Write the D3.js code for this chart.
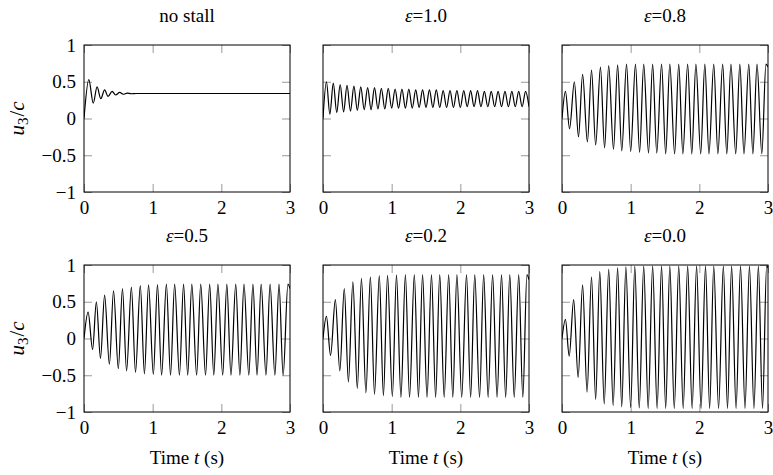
<!DOCTYPE html>
<meta charset="utf-8">
<style>
  body { margin: 0; background: #fff; }
  svg, text { font-family: "Liberation Serif", "Times New Roman", "DejaVu Serif", serif; }
  text { fill: #000; }
  .tick line { stroke: #999; }
  .domain { display: none; }
</style>
<body>
<svg width="773" height="475"></svg>

<script src="https://cdn.jsdelivr.net/npm/d3@7/dist/d3.min.js"></script>
<script>

// panel titles, row by row
var titles = ["no stall", "ε=1.0", "ε=0.8", "ε=0.5", "ε=0.2", "ε=0.0"];

var xTicks = [0, 1, 2, 3];
var yTicks = [-1, -0.5, 0, 0.5, 1];

// [time (s), u3/c] at the turning points
var noStall = [
  [0, 0], [0.07, 0.53], [0.135, 0.21], [0.19, 0.43], [0.245, 0.27], [0.30, 0.39],
  [0.35, 0.30], [0.41, 0.37], [0.46, 0.32], [0.52, 0.355], [0.57, 0.33],
  [0.63, 0.345], [0.69, 0.337], [0.76, 0.34], [3.0, 0.34]
];

var eps10 = [
  [0, 0],
  [0.05, 0.50], [0.10, 0.06], [0.15, 0.48], [0.20, 0.08], [0.25, 0.46], [0.30, 0.09],
  [0.35, 0.45], [0.40, 0.10], [0.45, 0.44], [0.50, 0.11], [0.55, 0.43], [0.60, 0.12],
  [0.65, 0.42], [0.70, 0.12], [0.75, 0.42], [0.80, 0.13], [0.85, 0.41], [0.90, 0.13],
  [0.95, 0.41], [1.00, 0.14], [1.05, 0.40], [1.10, 0.14], [1.15, 0.40], [1.20, 0.14],
  [1.25, 0.40], [1.30, 0.14], [1.35, 0.39], [1.40, 0.15], [1.45, 0.39], [1.50, 0.15],
  [1.55, 0.39], [1.60, 0.15], [1.65, 0.39], [1.70, 0.15], [1.75, 0.38], [1.80, 0.15],
  [1.85, 0.38], [1.90, 0.15], [1.95, 0.38], [2.00, 0.15], [2.05, 0.38], [2.10, 0.16],
  [2.15, 0.38], [2.20, 0.16], [2.25, 0.38], [2.30, 0.16], [2.35, 0.37], [2.40, 0.16],
  [2.45, 0.37], [2.50, 0.16], [2.55, 0.37], [2.60, 0.16], [2.65, 0.37], [2.70, 0.16],
  [2.75, 0.37], [2.80, 0.16], [2.85, 0.37], [2.90, 0.16], [2.95, 0.37], [3.00, 0.16]
];

var eps08 = [
  [0, 0],
  [0.05, 0.37], [0.11, -0.14], [0.18, 0.50], [0.24, -0.25], [0.30, 0.60], [0.37, -0.32],
  [0.43, 0.66], [0.49, -0.36], [0.56, 0.70], [0.62, -0.40], [0.68, 0.72], [0.75, -0.42],
  [0.81, 0.73], [0.87, -0.44], [0.94, 0.74], [1.00, -0.45], [1.07, 0.74], [1.13, -0.46],
  [1.19, 0.74], [1.26, -0.47], [1.32, 0.74], [1.38, -0.47], [1.45, 0.74], [1.51, -0.48],
  [1.57, 0.74], [1.64, -0.48], [1.70, 0.74], [1.76, -0.48], [1.83, 0.74], [1.89, -0.48],
  [1.95, 0.74], [2.02, -0.48], [2.08, 0.74], [2.14, -0.48], [2.21, 0.74], [2.27, -0.48],
  [2.34, 0.74], [2.40, -0.48], [2.46, 0.74], [2.53, -0.48], [2.59, 0.74], [2.65, -0.48],
  [2.72, 0.74], [2.78, -0.48], [2.84, 0.74], [2.91, -0.48], [2.97, 0.74], [3.00, 0.70]
];

var eps05 = [
  [0, 0],
  [0.06, 0.36], [0.125, -0.15], [0.18, 0.50], [0.24, -0.27], [0.30, 0.59], [0.37, -0.35],
  [0.43, 0.65], [0.50, -0.41], [0.56, 0.68], [0.62, -0.44], [0.69, 0.70], [0.75, -0.46],
  [0.82, 0.72], [0.88, -0.48], [0.94, 0.73], [1.01, -0.49], [1.07, 0.735], [1.13, -0.50],
  [1.20, 0.74], [1.26, -0.50], [1.32, 0.74], [1.39, -0.50], [1.45, 0.74], [1.51, -0.50],
  [1.57, 0.74], [1.64, -0.50], [1.70, 0.74], [1.77, -0.50], [1.83, 0.74], [1.89, -0.50],
  [1.95, 0.74], [2.02, -0.50], [2.08, 0.74], [2.14, -0.50], [2.21, 0.74], [2.27, -0.50],
  [2.33, 0.74], [2.40, -0.50], [2.46, 0.74], [2.52, -0.50], [2.58, 0.74], [2.65, -0.50],
  [2.71, 0.74], [2.78, -0.50], [2.84, 0.74], [2.90, -0.50], [2.97, 0.74], [3.00, 0.68]
];

var eps02 = [
  [0, 0],
  [0.05, 0.30], [0.11, -0.23], [0.18, 0.53], [0.245, -0.44], [0.31, 0.68], [0.37, -0.59],
  [0.435, 0.77], [0.50, -0.68], [0.56, 0.82], [0.625, -0.74], [0.69, 0.84], [0.75, -0.76],
  [0.82, 0.855], [0.88, -0.78], [0.94, 0.86], [1.01, -0.79], [1.07, 0.865], [1.135, -0.80],
  [1.20, 0.87], [1.26, -0.80], [1.33, 0.87], [1.39, -0.80], [1.45, 0.87], [1.515, -0.80],
  [1.58, 0.87], [1.64, -0.80], [1.70, 0.87], [1.765, -0.80], [1.83, 0.87], [1.89, -0.80],
  [1.95, 0.87], [2.02, -0.80], [2.09, 0.87], [2.15, -0.80], [2.21, 0.87], [2.28, -0.80],
  [2.34, 0.87], [2.405, -0.80], [2.47, 0.87], [2.535, -0.80], [2.60, 0.87], [2.66, -0.80],
  [2.72, 0.87], [2.785, -0.80], [2.85, 0.87], [2.91, -0.80], [2.97, 0.87], [3.00, 0.80]
];

var eps00 = [
  [0, 0],
  [0.05, 0.26], [0.105, -0.24], [0.17, 0.53], [0.235, -0.53], [0.30, 0.73], [0.365, -0.73],
  [0.43, 0.84], [0.49, -0.83], [0.55, 0.91], [0.615, -0.89], [0.68, 0.94], [0.745, -0.91],
  [0.81, 0.96], [0.87, -0.93], [0.93, 0.975], [1.00, -0.94], [1.06, 0.98], [1.125, -0.945],
  [1.19, 0.985], [1.255, -0.95], [1.32, 0.985], [1.385, -0.95], [1.45, 0.985], [1.51, -0.95],
  [1.57, 0.985], [1.635, -0.95], [1.70, 0.985], [1.765, -0.95], [1.83, 0.985], [1.895, -0.95],
  [1.96, 0.985], [2.025, -0.95], [2.09, 0.985], [2.15, -0.95], [2.21, 0.985], [2.28, -0.95],
  [2.35, 0.985], [2.41, -0.95], [2.47, 0.985], [2.535, -0.95], [2.60, 0.985], [2.665, -0.95],
  [2.73, 0.985], [2.795, -0.95], [2.86, 0.985], [2.92, -0.95], [2.98, 0.985], [3.00, 0.96]
];

var series = [noStall, eps10, eps08, eps05, eps02, eps00];

// layout
var panelW = 206, panelH = 147;
var colLeft = [84, 323, 562];
var rowTop = [45, 265];
var fontSize = 19;
var serif = "'Liberation Serif', 'Times New Roman', 'DejaVu Serif', serif";

var svg = d3.select("svg").attr("font-family", serif);

var x = d3.scaleLinear().domain([0, 3]).range([0, panelW]);
var y = d3.scaleLinear().domain([-1, 1]).range([panelH, 0]);

var valueline = d3.line().curve(d3.curveMonotoneX)
    .x(function(d) { return x(d[0]); })
    .y(function(d) { return y(d[1]); });

svg.append("defs").append("clipPath")
    .attr("id", "clip")
    .append("rect")
    .attr("width", panelW)
    .attr("height", panelH);

var fmt = d3.format("");

series.forEach(function(data, i) {
    var col = i % 3, row = Math.floor(i / 3);
    var g = svg.append("g")
	.attr("transform", "translate(" + colLeft[col] + "," + rowTop[row] + ")");

    // ticks, pointing inward on all four sides
    var axes = [
	g.append("g")
	    .attr("transform", "translate(0," + panelH + ")")
	    .call(d3.axisBottom(x).tickValues(xTicks).tickSize(-8).tickPadding(9).tickFormat(fmt)),
	g.append("g")
	    .call(d3.axisTop(x).tickValues(xTicks).tickSize(-8).tickFormat("")),
	g.append("g")
	    .call(d3.axisLeft(y).tickValues(yTicks).tickSize(-8).tickPadding(8)
		  .tickFormat(col == 0 ? fmt : "")),
	g.append("g")
	    .attr("transform", "translate(" + panelW + ",0)")
	    .call(d3.axisRight(y).tickValues(yTicks).tickSize(-8).tickFormat(""))
    ];
    axes.forEach(function(a) {
	a.attr("font-family", serif).attr("font-size", fontSize);
    });

    // the signal
    g.append("path")
	.datum(data)
	.attr("clip-path", "url(#clip)")
	.attr("fill", "none")
	.attr("stroke", "#000")
	.attr("stroke-width", 1.2)
	.attr("d", valueline);

    // frame
    g.append("rect")
	.attr("width", panelW)
	.attr("height", panelH)
	.attr("fill", "none")
	.attr("stroke", "#000")
	.attr("stroke-width", 1);

    // title
    var t = g.append("text")
	.attr("x", panelW / 2)
	.attr("y", -23)
	.attr("text-anchor", "middle")
	.attr("font-size", fontSize);
    if (titles[i].charAt(0) == "ε") {
	t.append("tspan").style("font-style", "italic").text("ε");
	t.append("tspan").text(titles[i].slice(1));
    } else {
	t.text(titles[i]);
    }

    // x label on the bottom row
    if (row == 1) {
	var xl = g.append("text")
	    .attr("x", panelW / 2)
	    .attr("y", panelH + 52)
	    .attr("text-anchor", "middle")
	    .attr("font-size", fontSize);
	xl.append("tspan").text("Time ");
	xl.append("tspan").style("font-style", "italic").text("t");
	xl.append("tspan").text(" (s)");
    }

    // y label on the left column
    if (col == 0) {
	var yl = g.append("text")
	    .attr("transform", "translate(-60," + (panelH / 2) + ") rotate(-90)")
	    .attr("text-anchor", "middle")
	    .attr("font-size", 21);
	yl.append("tspan").style("font-style", "italic").text("u");
	yl.append("tspan").attr("dy", 4).attr("font-size", 15).text("3");
	yl.append("tspan").attr("dy", -4).attr("dx", 1).text("/");
	yl.append("tspan").style("font-style", "italic").text("c");
    }
});

</script>
</body>
